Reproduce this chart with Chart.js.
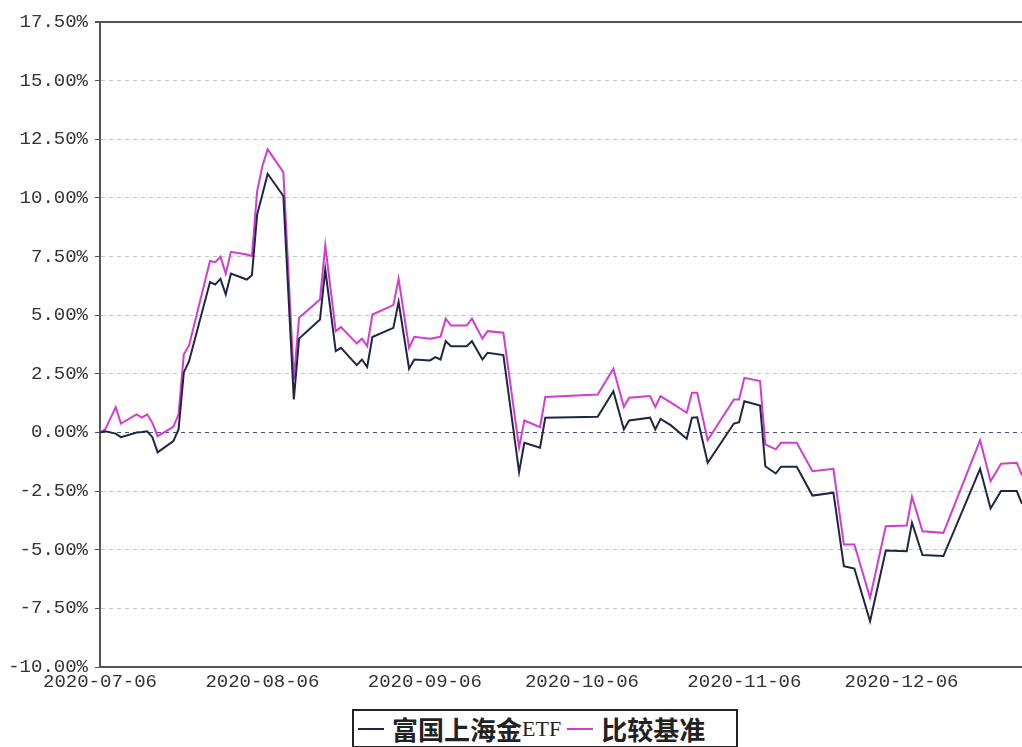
<!DOCTYPE html>
<html>
<head>
<meta charset="utf-8">
<script src="https://cdn.jsdelivr.net/npm/chart.js@4.4.1/dist/chart.umd.min.js"></script>
<style>
  body { margin: 0; background: #fff; }
  #wrap { position: relative; width: 1022px; height: 747px; overflow: hidden; }
  #box { position: absolute; left: 0; top: 0; width: 1022px; height: 705px; }
  #legend {
    position: absolute; left: 352px; top: 709px; width: 382px; height: 35px;
    border: 2px solid #222; display: flex; align-items: center;
    font-family: "Noto Sans CJK SC", sans-serif; font-weight: bold; font-size: 26px; color: #222;
    white-space: nowrap;
  }
  #legend .dash { display: inline-block; width: 26px; height: 2px; margin: 0 8px 0 4px; vertical-align: middle; }
  #legend .etf { font-family: "Liberation Serif", serif; font-weight: normal; font-size: 22px; }
</style>
</head>
<body>
<div id="wrap">
  <div id="box"><canvas id="navChart"></canvas></div>
  <div id="legend"></div>
</div>
<script>
// trading dates (vertices)
const dates = [
  '2020-07-06', '2020-07-07', '2020-07-09', '2020-07-10', '2020-07-13', '2020-07-14', '2020-07-15',
  '2020-07-16', '2020-07-17', '2020-07-20', '2020-07-21', '2020-07-22', '2020-07-23', '2020-07-27',
  '2020-07-28', '2020-07-29', '2020-07-30', '2020-07-31', '2020-08-03', '2020-08-04', '2020-08-05',
  '2020-08-06', '2020-08-07', '2020-08-10', '2020-08-12', '2020-08-13', '2020-08-17', '2020-08-18',
  '2020-08-20', '2020-08-21', '2020-08-24', '2020-08-25', '2020-08-26', '2020-08-27', '2020-08-31',
  '2020-09-01', '2020-09-03', '2020-09-04', '2020-09-07', '2020-09-08', '2020-09-09', '2020-09-10',
  '2020-09-11', '2020-09-14', '2020-09-15', '2020-09-17', '2020-09-18', '2020-09-21', '2020-09-24',
  '2020-09-25', '2020-09-28', '2020-09-29', '2020-10-09', '2020-10-12', '2020-10-14', '2020-10-15',
  '2020-10-19', '2020-10-20', '2020-10-21', '2020-10-23', '2020-10-26', '2020-10-27', '2020-10-28',
  '2020-10-30', '2020-11-04', '2020-11-05', '2020-11-06', '2020-11-09', '2020-11-10', '2020-11-12',
  '2020-11-13', '2020-11-16', '2020-11-19', '2020-11-23', '2020-11-25', '2020-11-27', '2020-11-30',
  '2020-12-03', '2020-12-07', '2020-12-08', '2020-12-10', '2020-12-14', '2020-12-21', '2020-12-23',
  '2020-12-25', '2020-12-28', '2020-12-29'
];

// 富国上海金ETF (%)
const etfValues = [
  0.00, 0.05, -0.05, -0.20, 0.00, 0.02, 0.05,
  -0.20, -0.85, -0.37, 0.13, 2.56, 3.04, 6.41,
  6.31, 6.55, 5.88, 6.77, 6.52, 6.70, 9.30,
  10.15, 11.03, 10.08, 1.41, 4.00, 4.82, 6.95,
  3.47, 3.61, 2.87, 3.11, 2.79, 4.07, 4.46,
  5.57, 2.72, 3.11, 3.07, 3.21, 3.11, 3.89,
  3.68, 3.68, 3.89, 3.11, 3.40, 3.30, -1.69,
  -0.44, -0.65, 0.63, 0.67, 1.76, 0.13, 0.51,
  0.63, 0.13, 0.58, 0.30, -0.27, 0.63, 0.65,
  -1.29, 0.38, 0.44, 1.33, 1.15, -1.44, -1.75,
  -1.46, -1.46, -2.69, -2.57, -5.70, -5.80, -8.05,
  -5.03, -5.06, -3.85, -5.23, -5.27, -1.55, -3.24,
  -2.50, -2.50, -3.04
];

// 比较基准 (%)
const benchValues = [
  0.00, 0.13, 1.08, 0.38, 0.77, 0.63, 0.77,
  0.41, -0.16, 0.24, 0.77, 3.33, 3.71, 7.31,
  7.26, 7.49, 6.77, 7.70, 7.59, 7.52, 10.29,
  11.36, 12.07, 11.10, 2.26, 4.89, 5.67, 7.97,
  4.32, 4.49, 3.80, 4.00, 3.68, 5.03, 5.43,
  6.55, 3.61, 4.08, 4.00, 4.04, 4.08, 4.85,
  4.56, 4.56, 4.85, 4.00, 4.32, 4.25, -0.65,
  0.51, 0.23, 1.51, 1.62, 2.72, 1.09, 1.48,
  1.55, 1.09, 1.55, 1.27, 0.84, 1.69, 1.69,
  -0.33, 1.41, 1.41, 2.33, 2.19, -0.51, -0.72,
  -0.44, -0.44, -1.65, -1.55, -4.78, -4.78, -7.05,
  -4.00, -3.97, -2.74, -4.21, -4.28, -0.33, -2.08,
  -1.33, -1.29, -1.83
];

const xTickLabels = ['2020-07-06', '2020-08-06', '2020-09-06', '2020-10-06', '2020-11-06', '2020-12-06'];
const seriesNames = ['富国上海金ETF', '比较基准'];
const seriesColors = ['#1f2544', '#d23cd2'];

// days since the first date, so gaps (weekends, holidays) keep their width
const dayMs = 86400000;
const t0 = Date.parse(dates[0]);
const toDay = d => Math.round((Date.parse(d) - t0) / dayMs);
const tickDays = xTickLabels.map(toDay);

const etfPoints = dates.map((d, i) => ({ x: toDay(d), y: etfValues[i] }));
const benchPoints = dates.map((d, i) => ({ x: toDay(d), y: benchValues[i] }));

const tickFont = { family: 'Liberation Mono', size: 19 };

const ctx = document.getElementById('navChart').getContext('2d');
const navChart = new Chart(ctx, {
  type: 'line',
  data: {
    datasets: [
      { label: seriesNames[0], data: etfPoints, borderColor: seriesColors[0], borderWidth: 2, pointRadius: 0, tension: 0 },
      { label: seriesNames[1], data: benchPoints, borderColor: seriesColors[1], borderWidth: 2, pointRadius: 0, tension: 0 }
    ]
  },
  options: {
    responsive: true,
    maintainAspectRatio: false,
    animation: false,
    layout: { padding: { top: 22, right: 0, left: 0, bottom: 0 } },
    plugins: { legend: { display: false }, tooltip: { enabled: false } },
    scales: {
      x: {
        type: 'linear',
        min: 0,
        max: toDay(dates[dates.length - 1]),
        afterBuildTicks: scale => { scale.ticks = tickDays.map(v => ({ value: v })); },
        afterFit: scale => { scale.height = 38; },
        ticks: {
          autoSkip: false,
          maxRotation: 0,
          padding: 4,
          color: '#333',
          font: tickFont,
          callback: value => xTickLabels[tickDays.indexOf(value)]
        },
        grid: { drawOnChartArea: false, drawTicks: false },
        border: { color: '#555', width: 2 }
      },
      y: {
        min: -10,
        max: 17.5,
        afterFit: scale => { scale.width = 100; },
        ticks: {
          stepSize: 2.5,
          padding: 7,
          color: '#333',
          font: tickFont,
          callback: value => value.toFixed(2) + '%'
        },
        grid: {
          tickLength: 5,
          tickColor: '#555',
          color: c => c.tick && c.tick.value === 0 ? '#4a4f7a' : (c.tick && c.tick.value === 17.5 ? '#555' : '#c4c4c4'),
          lineWidth: c => c.tick && c.tick.value === 17.5 ? 2 : 1
        },
        border: {
          color: '#555',
          width: 2,
          dash: c => c.tick ? (c.tick.value === 17.5 ? [] : [4, 4]) : []
        }
      }
    }
  }
});

// legend box under the chart
const legendEl = document.getElementById('legend');
legendEl.innerHTML =
  '<span class="dash" style="background:' + seriesColors[0] + '"></span>' +
  '富国上海金<span class="etf">ETF</span>' +
  '<span class="dash" style="background:' + seriesColors[1] + ';margin-left:6px"></span>' +
  seriesNames[1];
</script>
</body>
</html>
